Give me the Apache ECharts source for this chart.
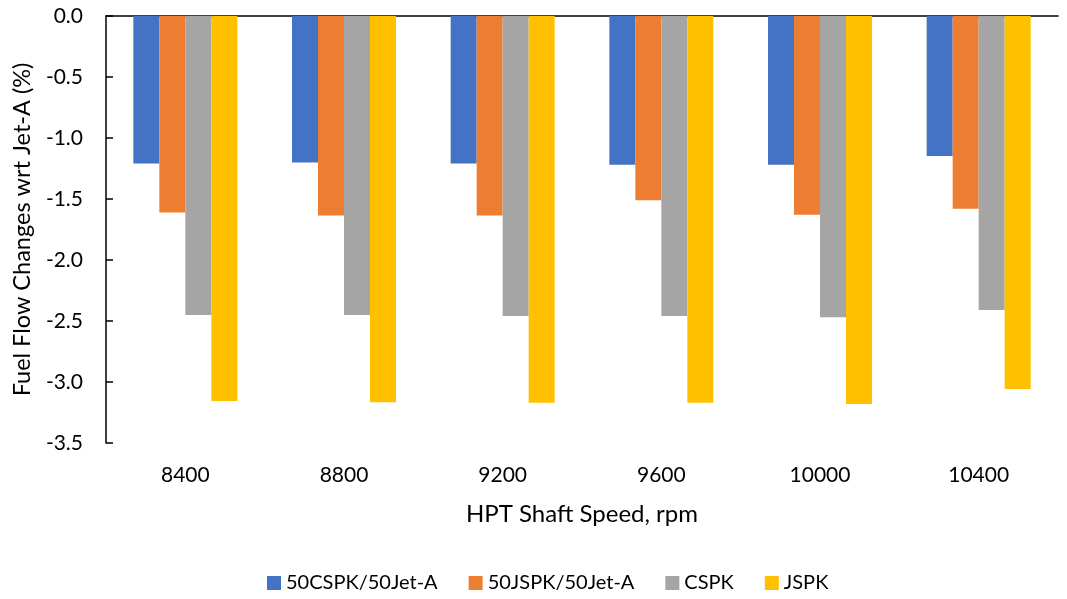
<!DOCTYPE html>
<html>
<head>
<meta charset="utf-8">
<script src="https://cdn.jsdelivr.net/npm/echarts@6/dist/echarts.min.js"></script>
<style>html,body{margin:0;padding:0;background:#fff}#c{width:1067px;height:599px}</style>
</head>
<body>
<div id="c"></div>
<script>
var categories = ['8400', '8800', '9200', '9600', '10000', '10400'];
var s50CSPK = [-1.21, -1.20, -1.21, -1.22, -1.22, -1.148];
var s50JSPK = [-1.61, -1.635, -1.635, -1.51, -1.63, -1.58];
var sCSPK = [-2.45, -2.45, -2.46, -2.46, -2.47, -2.41];
var sJSPK = [-3.155, -3.165, -3.17, -3.17, -3.18, -3.057];
var seriesNames = ['50CSPK/50Jet-A', '50JSPK/50Jet-A', 'CSPK', 'JSPK'];
var colors = ['#4472C4', '#ED7D31', '#A5A5A5', '#FFC000'];
var font = 'Lato, "Open Sans", sans-serif';
var chart = echarts.init(document.getElementById('c'));
var data = [s50CSPK, s50JSPK, sCSPK, sJSPK];
chart.setOption({
  animation: false,
  grid: {left: 106, right: 9, top: 16, bottom: 156},
  legend: {
    bottom: 1, left: 262, itemWidth: 14, itemHeight: 14, itemGap: 31, icon: 'rect',
    textStyle: {fontFamily: font, fontSize: 20, color: '#000'},
    data: seriesNames
  },
  xAxis: [{
    type: 'category', data: categories, position: 'bottom',
    axisLine: {show: false}, axisTick: {show: false},
    axisLabel: {fontFamily: font, fontSize: 21, color: '#000', margin: 22},
    name: 'HPT Shaft Speed, rpm', nameLocation: 'middle', nameGap: 59,
    nameTextStyle: {fontFamily: font, fontSize: 24, color: '#000'}
  }, {
    type: 'category', data: categories, position: 'top',
    axisLine: {show: true, lineStyle: {color: '#000', width: 1.5}},
    axisTick: {show: false}, axisLabel: {show: false}
  }],
  yAxis: {
    type: 'value', min: -3.5, max: 0, interval: 0.5,
    axisLine: {show: true, lineStyle: {color: '#000', width: 1.5}},
    axisTick: {show: true, inside: true, length: 7, lineStyle: {color: '#000', width: 1.5}},
    splitLine: {show: false},
    axisLabel: {fontFamily: font, fontSize: 21, color: '#000', margin: 23,
      formatter: function (v) { return v.toFixed(1); }},
    name: 'Fuel Flow Changes wrt Jet-A (%)', nameLocation: 'middle', nameGap: 72,
    nameTextStyle: {fontFamily: font, fontSize: 23.5, color: '#000'}
  },
  series: seriesNames.map(function (n, i) {
    return {name: n, type: 'bar', xAxisIndex: 0, data: data[i], barWidth: 26, barGap: '0%',
      itemStyle: {color: colors[i]}};
  })
});
</script>
</body>
</html>
